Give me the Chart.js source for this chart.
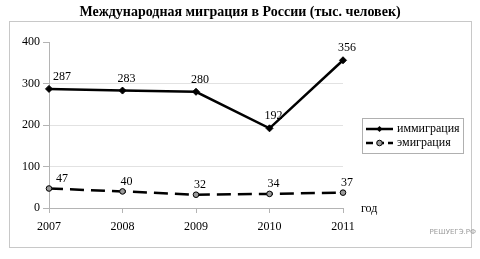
<!DOCTYPE html>
<html>
<head>
<meta charset="utf-8">
<script src="https://cdn.jsdelivr.net/npm/chart.js@4"></script>
<style>
  html, body { margin: 0; padding: 0; background: #fff; }
  #wrap { width: 480px; height: 259px; position: relative; }
</style>
</head>
<body>
<div id="wrap"><canvas id="grafico" width="480" height="259"></canvas></div>
<script>
// DATOS
const anios = ["2007", "2008", "2009", "2010", "2011"]
const immigracion = [287, 283, 280, 192, 356]
const emigracion = [47, 40, 32, 34, 37]
const nombresSeries = ["иммиграция", "эмиграция"]
const titulo = "Международная миграция в России (тыс. человек)"
const ejeXTitulo = "год"
const marcaAgua = "РЕШУЕГЭ.РФ"

const serif = "'Liberation Serif', 'DejaVu Serif', serif"

// marco, título, etiquetas, leyenda
const decoracion = {
    id: "decoracion",
    beforeDraw(chart) {
        const ctx = chart.ctx
        ctx.save()
        ctx.fillStyle = "#fff"
        ctx.fillRect(0, 0, chart.width, chart.height)
        ctx.strokeStyle = "#c8c8c8"
        ctx.lineWidth = 1
        ctx.strokeRect(9.5, 21.5, 462, 226)
        ctx.restore()
    },
    afterDatasetsDraw(chart) {
        const ctx = chart.ctx
        ctx.save()
        // título
        ctx.fillStyle = "#000"
        ctx.font = "bold 14px " + serif
        ctx.textAlign = "center"
        ctx.textBaseline = "middle"
        ctx.fillText(titulo, 240, 12)

        // etiquetas de datos
        ctx.font = "12px " + serif
        chart.data.datasets.forEach((ds, i) => {
            const meta = chart.getDatasetMeta(i)
            meta.data.forEach((p, j) => {
                const dx = j === 0 ? 13 : 4
                const dy = i === 0 ? 12 : 10
                ctx.fillText(String(ds.data[j]), p.x + dx, p.y - dy)
            })
        })

        // título eje X
        ctx.textAlign = "left"
        ctx.fillText(ejeXTitulo, 361, 209)

        // marca de agua
        ctx.font = "7px 'DejaVu Sans', sans-serif"
        ctx.fillStyle = "#9a9a9a"
        ctx.textAlign = "right"
        ctx.fillText(marcaAgua, 476, 232)

        // leyenda
        ctx.strokeStyle = "#b0b0b0"
        ctx.lineWidth = 1
        ctx.strokeRect(362.5, 118.5, 101, 35)
        const filas = [129, 143]
        chart.data.datasets.forEach((ds, i) => {
            const y = filas[i]
            ctx.strokeStyle = "#000"
            ctx.lineWidth = 2.5
            ctx.setLineDash(i === 0 ? [] : [7, 4])
            ctx.beginPath()
            ctx.moveTo(366, y)
            ctx.lineTo(393, y)
            ctx.stroke()
            ctx.setLineDash([])
            ctx.lineWidth = 1
            if (i === 0) {
                ctx.fillStyle = "#000"
                ctx.beginPath()
                ctx.moveTo(379.5, y - 3)
                ctx.lineTo(382.5, y)
                ctx.lineTo(379.5, y + 3)
                ctx.lineTo(376.5, y)
                ctx.closePath()
                ctx.fill()
            } else {
                ctx.fillStyle = "#9a9a9a"
                ctx.beginPath()
                ctx.arc(379.5, y, 2.8, 0, Math.PI * 2)
                ctx.fill()
                ctx.stroke()
            }
            ctx.fillStyle = "#000"
            ctx.font = "12px " + serif
            ctx.textAlign = "left"
            ctx.textBaseline = "middle"
            ctx.fillText(nombresSeries[i], 397, y)
        })
        ctx.restore()
    }
}

const ctx = document.getElementById("grafico").getContext("2d")
const myChart = new Chart(ctx, {
    type: "line",
    data: {
        labels: anios,
        datasets: [
            {
                label: nombresSeries[0],
                data: immigracion,
                borderColor: "#000",
                borderWidth: 2.5,
                pointStyle: "rectRot",
                pointRadius: 3.5,
                pointBackgroundColor: "#000",
                pointBorderColor: "#000",
                pointBorderWidth: 1,
                tension: 0,
            },
            {
                label: nombresSeries[1],
                data: emigracion,
                borderColor: "#000",
                borderWidth: 2.5,
                borderDash: [14, 7],
                pointStyle: "circle",
                pointRadius: 2.8,
                pointBackgroundColor: "#9a9a9a",
                pointBorderColor: "#000",
                pointBorderWidth: 1,
                tension: 0,
            },
        ],
    },
    options: {
        responsive: false,
        animation: false,
        layout: {
            padding: { left: 0, right: 137, top: 42, bottom: 0 },
        },
        scales: {
            x: {
                offset: false,
                afterFit: (scale) => { scale.height = 51 },
                border: { color: "#b4b4b4", width: 1 },
                grid: {
                    drawOnChartArea: false,
                    tickLength: 5,
                    color: "#b4b4b4",
                },
                ticks: {
                    padding: 7,
                    color: "#000",
                    font: { family: serif, size: 12 },
                    maxRotation: 0,
                },
            },
            y: {
                min: 0,
                max: 400,
                afterFit: (scale) => { scale.width = 49 },
                border: { color: "#b4b4b4", width: 1 },
                grid: {
                    tickLength: 6,
                    tickColor: "#b4b4b4",
                    color: (c) => (c.tick && (c.tick.value === 400 || c.tick.value === 0)) ? "rgba(0,0,0,0)" : "#e2e2e2",
                },
                ticks: {
                    stepSize: 100,
                    padding: 3,
                    color: "#000",
                    font: { family: serif, size: 12 },
                },
            },
        },
        plugins: {
            legend: { display: false },
            title: { display: false },
            tooltip: { enabled: false },
        },
    },
    plugins: [decoracion],
})
</script>
</body>
</html>
